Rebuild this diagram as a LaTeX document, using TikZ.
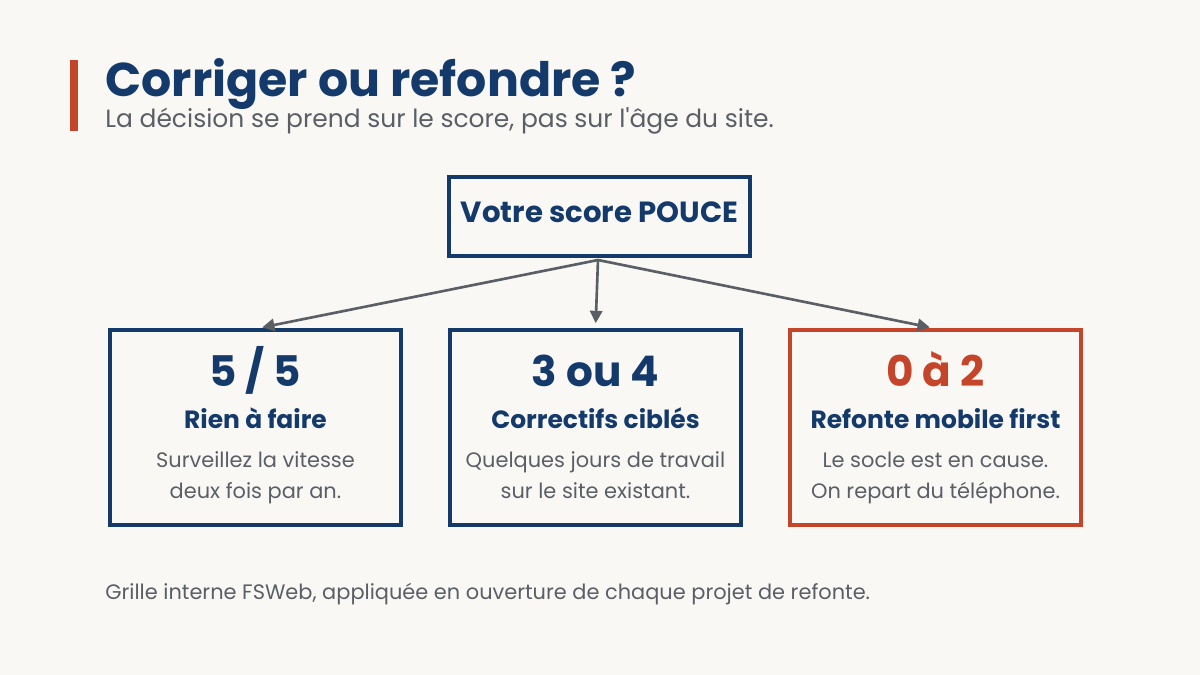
\documentclass[tikz,border=0pt]{standalone}
\usepackage{fontspec}
\setmainfont{Poppins}[Ligatures=TeXOff]
\usetikzlibrary{arrows.meta}
\definecolor{fond}{HTML}{F9F8F5}
\definecolor{bleu}{HTML}{143A6B}
\definecolor{brique}{HTML}{C4452A}
\definecolor{gris}{HTML}{5A5F66}
\tikzset{
  cadre/.style={draw=bleu, line width=1.8pt, minimum width=291*0.02cm, minimum height=195*0.02cm, inner sep=0},
  fleche/.style={draw=gris, line width=1.5pt, -{Triangle[length=7pt,width=7pt]}, shorten >=3pt},
  chiffre/.style={anchor=base, inner sep=0, text=bleu, font=\fontsize{24}{28}\selectfont\bfseries},
  verdict/.style={anchor=base, inner sep=0, text=bleu, font=\fontsize{14.2}{17}\selectfont\bfseries},
  detail/.style={anchor=base, inner sep=0, text=gris, font=\fontsize{11.9}{14}\selectfont}
}
\begin{document}
\begin{tikzpicture}[x=0.02cm, y=-0.02cm]
  \fill[fond] (0,0) rectangle (1200,675);
  \useasboundingbox (0,0) rectangle (1200,675);
  % en-tete
  \fill[brique] (70,60) rectangle (78,131);
  \node[anchor=base west, inner sep=0, text=bleu, font=\fontsize{27}{32}\selectfont\bfseries] (titre) at (105,97) {Corriger ou refondre ?};
  \node[anchor=base west, inner sep=0, text=gris, font=\fontsize{14.2}{17}\selectfont] (soustitre) at (105,128) {La décision se prend sur le score, pas sur l'âge du site.};
  % score
  \node[draw=bleu, line width=1.8pt, minimum width=301*0.02cm, minimum height=79*0.02cm, inner sep=0] (score) at (599.5,216.5) {};
  \node[anchor=base, inner sep=0, text=bleu, font=\fontsize{16.6}{20}\selectfont\bfseries] at (599.5,223) {Votre score POUCE};
  \coordinate (depart) at (598,260);
  % les trois cas
  \node[cadre] (cas1) at (255.5,427.5) {};
  \node[cadre] (cas2) at (595.5,427.5) {};
  \node[cadre, draw=brique] (cas3) at (935.5,427.5) {};
  \node[chiffre] at (255.5,387) {5 / 5};
  \node[verdict] at (255.5,428) {Rien à faire};
  \node[detail] at (255.5,467) {Surveillez la vitesse};
  \node[detail] at (255.5,498) {deux fois par an.};
  \node[chiffre] at (595.5,387) {3 ou 4};
  \node[verdict] at (595.5,428) {Correctifs ciblés};
  \node[detail] at (595.5,467) {Quelques jours de travail};
  \node[detail] at (595.5,498) {sur le site existant.};
  \node[chiffre, text=brique] at (935.5,387) {0 à 2};
  \node[verdict] at (935.5,428) {Refonte mobile first};
  \node[detail] at (935.5,467) {Le socle est en cause.};
  \node[detail] at (935.5,498) {On repart du téléphone.};
  \draw[fleche] (depart) -- ([xshift=1.5*0.02cm]cas1.north);
  \draw[fleche] (depart) -- (cas2.north);
  \draw[fleche] (depart) -- ([xshift=-0.5*0.02cm]cas3.north);
  % pied
  \node[anchor=base west, inner sep=0, text=gris, font=\fontsize{11.9}{14}\selectfont] (pied) at (105,599) {Grille interne FSWeb, appliquée en ouverture de chaque projet de refonte.};
\end{tikzpicture}
\end{document}
